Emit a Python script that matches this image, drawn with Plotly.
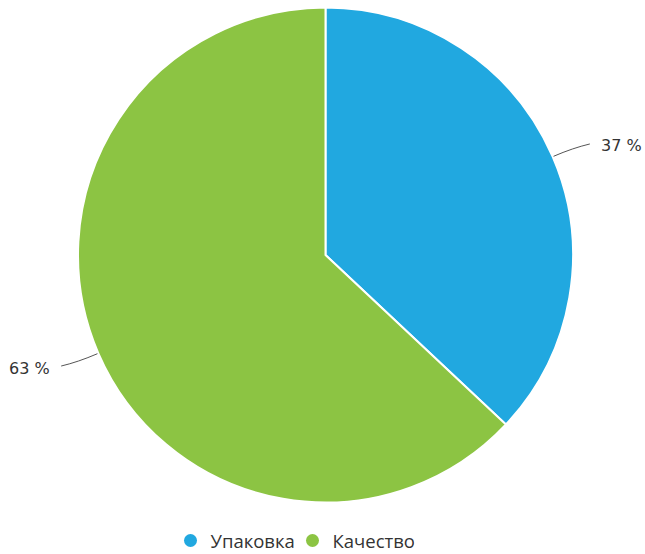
import math
import plotly.graph_objects as go

labels = ["Упаковка", "Качество"]
values = [37, 63]
colors = ["#21A8E0", "#8CC443"]
text_labels = ["37 %", "63 %"]

W, H = 645, 554
# pie placement in pixels
cx, cy, r = 325.5, 255.0, 247.5

fig = go.Figure()
fig.add_trace(go.Pie(
    labels=labels, values=values, sort=False, direction="clockwise", rotation=0,
    marker=dict(colors=colors, line=dict(color="white", width=2)),
    textinfo="none", hoverinfo="label+percent", showlegend=False,
    domain=dict(x=[(cx - r) / W, (cx + r) / W],
                y=[1 - (cy + r) / H, 1 - (cy - r) / H]),
))

# legend entries with circle markers
for lab, col in zip(labels, colors):
    fig.add_trace(go.Scatter(x=[None], y=[None], mode="markers", name=lab,
                             marker=dict(color=col, size=13, symbol="circle")))

def px2paper(x, y):
    return x / W, 1 - y / H

total = sum(values)
cum = 0
shapes = []
annotations = []
for v, t in zip(values, text_labels):
    mid = (cum + v / 2) / total * 2 * math.pi
    cum += v
    sx, sy = math.sin(mid), -math.cos(mid)
    ex, ey = cx + (r + 1) * sx, cy + (r + 1) * sy
    side = 1 if sx >= 0 else -1
    kx, ky = cx + (r + 22) * sx, cy + (r + 22) * sy
    tx, ty = kx + side * 17, ky - side * 4
    p0 = px2paper(ex, ey)
    p1 = px2paper(kx, ky)
    p2 = px2paper(tx, ty)
    shapes.append(dict(type="path", xref="paper", yref="paper",
                       path=f"M {p0[0]},{p0[1]} Q {p1[0]},{p1[1]} {p2[0]},{p2[1]}",
                       line=dict(color="#555555", width=1)))
    lx, ly = px2paper(tx + side * 10, ty + 2)
    annotations.append(dict(x=lx, y=ly, xref="paper", yref="paper", text=t, showarrow=False,
                            xanchor="left" if side > 0 else "right", yanchor="middle",
                            borderpad=0,
                            font=dict(family="DejaVu Sans", size=16, color="#333333")))

fig.update_layout(
    width=W, height=H, margin=dict(l=0, r=0, t=0, b=0, autoexpand=False),
    paper_bgcolor="white", plot_bgcolor="white",
    xaxis=dict(visible=False), yaxis=dict(visible=False),
    shapes=shapes, annotations=annotations,
    legend=dict(orientation="h", x=(322.5 - 30) / W, xanchor="center",
                yref="container", y=1 - 541 / H, yanchor="middle", entrywidth=77,
                font=dict(family="Open Sans", size=18.5, color="#333333")),
)
fig.write_html("out.html")
